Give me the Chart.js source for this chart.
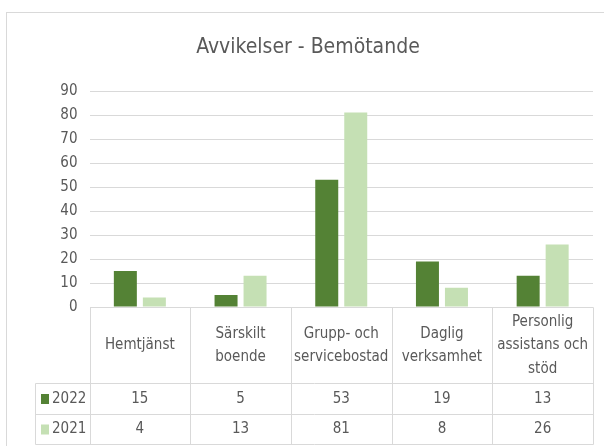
<!DOCTYPE html>
<html>
<head>
<meta charset="utf-8">
<script src="https://cdn.jsdelivr.net/npm/chart.js@4"></script>
<style>
  html, body { margin: 0; padding: 0; background: #fff; }
  #wrap { width: 604px; height: 446px; position: relative; }
</style>
</head>
<body>
<div id="wrap"><canvas id="grafico"></canvas></div>
<script>
const titulo = "Avvikelser - Bemötande";
const kategorier = [
  ["Hemtjänst"],
  ["Särskilt", "boende"],
  ["Grupp- och", "servicebostad"],
  ["Daglig", "verksamhet"],
  ["Personlig", "assistans och", "stöd"]
];
const serier = ["2022", "2021"];
const varden2022 = [15, 5, 53, 19, 13];
const varden2021 = [4, 13, 81, 8, 26];
const yTicks = [0, 10, 20, 30, 40, 50, 60, 70, 80, 90];

const farger = ["#548235", "#c5e0b4"];
const textFarg = "#595959";
const linjeFarg = "#d9d9d9";
const typsnitt = '"Liberation Sans Narrow", "DejaVu Sans Condensed", sans-serif';

// tabell under diagrammet + titel + ram
const tabellPlugin = {
  id: "tabell",
  afterDraw(chart) {
    const ctx = chart.ctx;
    const area = chart.chartArea;
    const x = chart.scales.x;
    const n = kategorier.length;
    const bredd = (area.right - area.left) / n;
    const topp = area.bottom;
    const rubrikBotten = 383.5;
    const rad1 = 414.5;
    const rad2 = 444.5;
    const vanster = 35.5;

    ctx.save();
    // ram runt diagrammet
    ctx.strokeStyle = linjeFarg;
    ctx.lineWidth = 1;
    ctx.strokeRect(6.5, 12.5, 640, 500);

    // titel
    ctx.fillStyle = textFarg;
    ctx.font = "21px " + typsnitt;
    ctx.textAlign = "center";
    ctx.textBaseline = "middle";
    ctx.fillText(titulo, 308, 48);

    // linjer
    ctx.strokeStyle = linjeFarg;
    ctx.beginPath();
    const L = Math.round(area.left) + 0.5;
    const R = Math.round(area.right) + 0.5;
    const T = Math.round(topp) + 0.5;
    ctx.moveTo(L, T); ctx.lineTo(R, T);
    ctx.moveTo(vanster, rubrikBotten); ctx.lineTo(R, rubrikBotten);
    ctx.moveTo(vanster, rad1); ctx.lineTo(R, rad1);
    ctx.moveTo(vanster, rad2); ctx.lineTo(R, rad2);
    ctx.moveTo(vanster, rubrikBotten); ctx.lineTo(vanster, rad2);
    for (let i = 0; i <= n; i++) {
      const px = Math.round(area.left + i * bredd) + 0.5;
      ctx.moveTo(px, T); ctx.lineTo(px, rad2);
    }
    ctx.stroke();

    // rubriker
    ctx.fillStyle = textFarg;
    ctx.font = "15px " + typsnitt;
    const mitt = (T + rubrikBotten) / 2;
    kategorier.forEach((rader, i) => {
      const cx = x.getPixelForValue(i);
      const start = mitt - (rader.length - 1) * 23.5 / 2;
      rader.forEach((r, j) => ctx.fillText(r, cx, start + j * 23.5));
    });

    // värden
    const rader = [varden2022, varden2021];
    const radMitt = [(rubrikBotten + rad1) / 2, (rad1 + rad2) / 2];
    rader.forEach((vals, k) => {
      vals.forEach((v, i) => {
        ctx.fillText(String(v), x.getPixelForValue(i), radMitt[k]);
      });
      // förklaring
      ctx.fillStyle = farger[k];
      ctx.fillRect(41, radMitt[k] - 5, 8, 10);
      ctx.fillStyle = textFarg;
      ctx.textAlign = "left";
      ctx.fillText(serier[k], 52, radMitt[k]);
      ctx.textAlign = "center";
    });
    ctx.restore();
  }
};

new Chart(document.getElementById("grafico"), {
  type: "bar",
  data: {
    labels: kategorier,
    datasets: [
      { label: serier[0], data: varden2022, backgroundColor: farger[0] },
      { label: serier[1], data: varden2021, backgroundColor: farger[1] }
    ]
  },
  options: {
    responsive: true,
    maintainAspectRatio: false,
    animation: false,
    datasets: { bar: { categoryPercentage: 0.576, barPercentage: 0.793 } },
    layout: { padding: { left: 0, right: 11, top: 91, bottom: 139 } },
    plugins: {
      legend: { display: false },
      tooltip: { enabled: false }
    },
    scales: {
      x: { display: false },
      y: {
        min: 0,
        max: 90,
        afterBuildTicks: (s) => { s.ticks = yTicks.map(v => ({ value: v })); },
        afterFit: (s) => { s.width = 89.5; },
        border: { display: false },
        grid: { color: linjeFarg, drawTicks: false },
        ticks: {
          color: textFarg,
          padding: 12,
          font: { size: 15, family: typsnitt }
        }
      }
    }
  },
  plugins: [tabellPlugin]
});
</script>
</body>
</html>
